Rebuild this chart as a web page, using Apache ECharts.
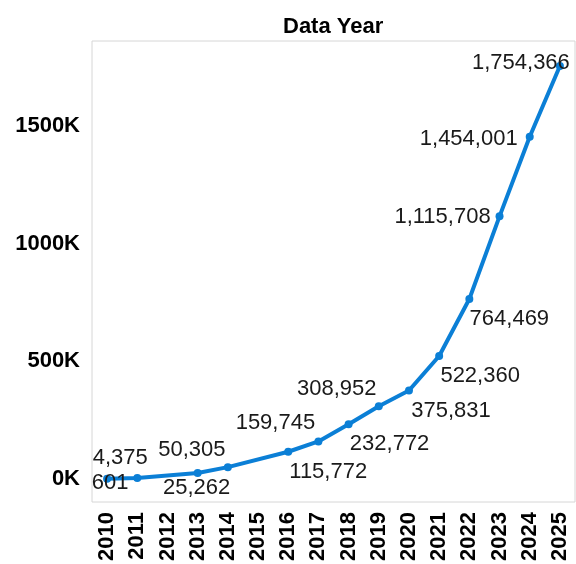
<!DOCTYPE html>
<html>
<head>
<meta charset="utf-8">
<script src="https://cdn.jsdelivr.net/npm/echarts@6/dist/echarts.min.js"></script>
<style>
html,body{margin:0;padding:0;background:#fff;}
#chart{width:576px;height:564px;}
</style>
</head>
<body>
<div id="chart"></div>
<script>
const years = ['2010','2011','2012','2013','2014','2015','2016','2017','2018','2019','2020','2021','2022','2023','2024','2025'];
const values = [601, 4375, null, 25262, 50305, null, 115772, 159745, 232772, 308952, 375831, 522360, 764469, 1115708, 1454001, 1754366];
const yTicks = [0, 500000, 1000000, 1500000];
const titleText = 'Data Year';

// label placement (style only)
const labelOffsets = [[3,4],[-17,-20],null,[-1,15],[-36,-17],null,[40,20],[-43,-18],[41,20],[-42,-17],[42,20],[41,20],[40,20],[-57,1],[-61,2],[-39,-3]];

const FONT = '"Liberation Sans", Arial, sans-serif';
const chart = echarts.init(document.getElementById('chart'), null, {renderer:'canvas'});

const seriesData = values.map((v, i) => {
  if (v === null) return null;
  const off = labelOffsets[i] || [0,0];
  return { value: v, label: { offset: off } };
});

chart.setOption({
  animation: false,
  backgroundColor: '#ffffff',
  title: {
    text: titleText,
    left: 278,
    top: 11,
    textStyle: { fontFamily: FONT, fontSize: 22, fontWeight: 'bold', color: '#000' }
  },
  grid: {
    left: 92, right: 1, top: 41, bottom: 62,
    show: true, borderColor: '#d6d6d6', borderWidth: 1, backgroundColor: 'transparent'
  },
  xAxis: {
    type: 'category',
    data: years,
    boundaryGap: true,
    axisLine: { show: false },
    axisTick: { show: false },
    splitLine: { show: false },
    axisLabel: {
      rotate: 90, margin: 10, interval: 0,
      fontFamily: FONT, fontSize: 22, fontWeight: 'bold', color: '#000'
    }
  },
  yAxis: {
    type: 'value',
    min: -97700,
    max: 1860600,
    axisLine: { show: false },
    axisTick: { show: false },
    splitLine: { show: false },
    axisLabel: {
      customValues: yTicks,
      margin: 12,
      fontFamily: FONT, fontSize: 22, fontWeight: 'bold', color: '#000',
      formatter: v => Math.round(v / 1000) + 'K'
    }
  },
  series: [{
    type: 'line',
    data: seriesData,
    connectNulls: true,
    symbol: 'circle',
    symbolSize: 8,
    showAllSymbol: true,
    lineStyle: { color: '#0b7fd6', width: 4 },
    itemStyle: { color: '#0b7fd6' },
    label: {
      show: true,
      position: 'inside',
      fontFamily: FONT,
      fontSize: 22,
      color: '#1a1a1a',
      formatter: p => p.value.toLocaleString('en-US')
    },
    z: 3
  }]
});
</script>
</body>
</html>
